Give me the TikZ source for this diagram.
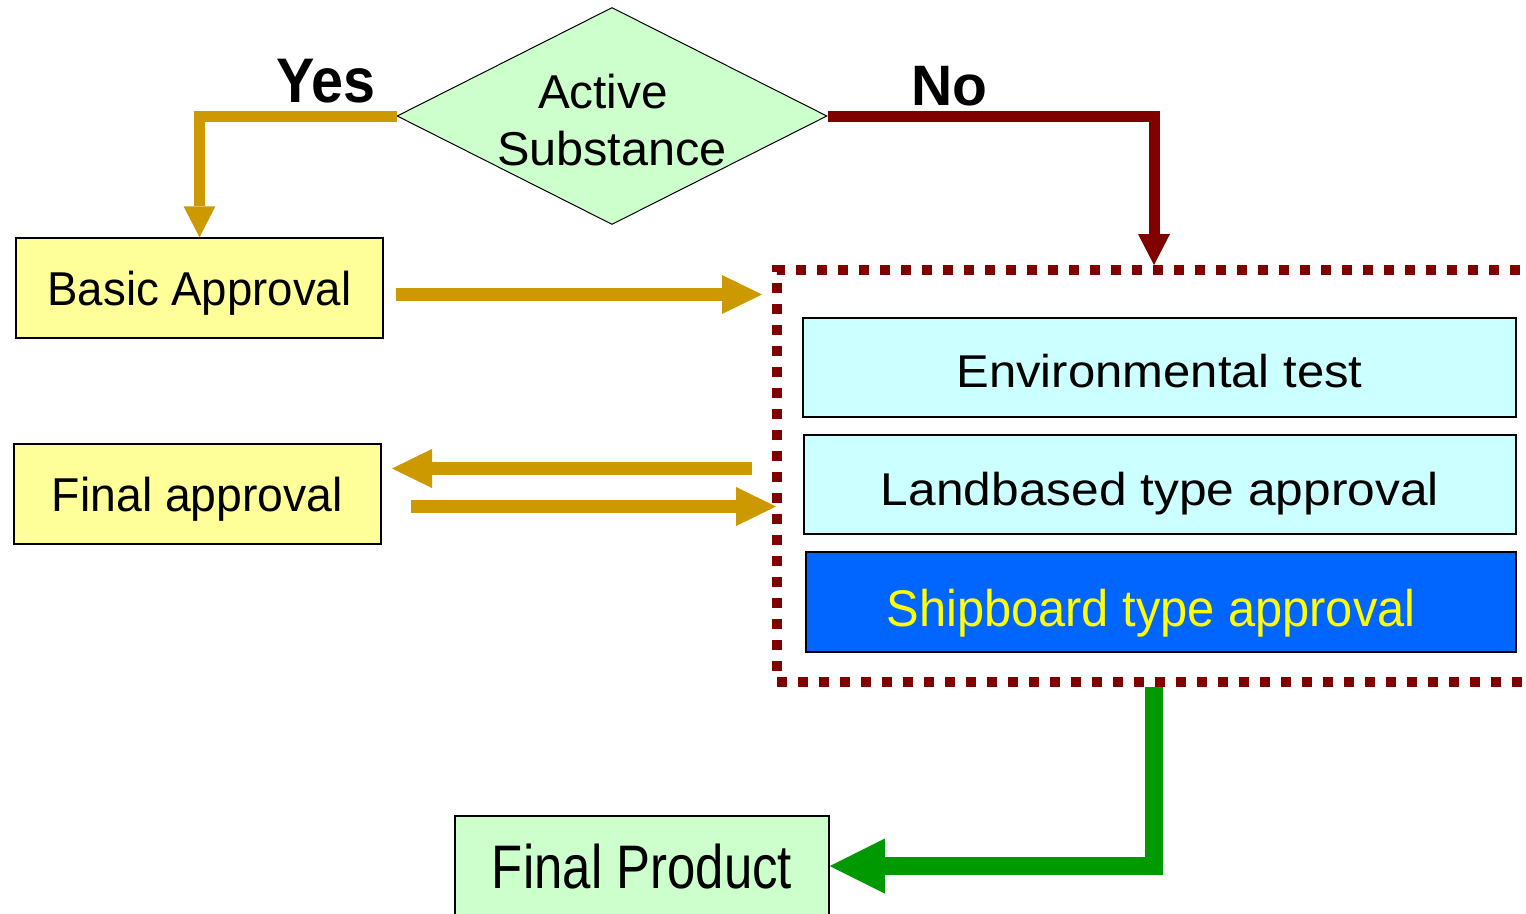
\documentclass[tikz,border=0pt]{standalone}
\usepackage{fontspec}
\usepackage{graphicx}
\setmainfont{Liberation Sans}
\usetikzlibrary{shapes.geometric,arrows.meta,calc}

\definecolor{gold}{HTML}{CC9900}
\definecolor{dred}{HTML}{800000}
\definecolor{arrowgreen}{HTML}{009900}
\definecolor{paleyellow}{HTML}{FFFF99}
\definecolor{palegreen}{HTML}{CCFFCC}
\definecolor{palecyan}{HTML}{CCFFFF}
\definecolor{brightblue}{HTML}{0066FF}
\definecolor{brightyellow}{HTML}{FFFF00}

% text at a given size, stretched or squeezed to a given width
\newcommand\fitw[3]{{\fontsize{#1}{#1}\selectfont\resizebox{#2pt}{\height}{#3}}}

\tikzset{
  stagebox/.style={draw=black, line width=1.5pt, inner sep=0pt,
    minimum height=100pt, text depth=0pt},
  yellowbox/.style={stagebox, fill=paleyellow, minimum width=367pt},
  cyanbox/.style={stagebox, fill=palecyan, minimum height=99pt},
  bluebox/.style={stagebox, fill=brightblue, text=brightyellow},
  greenbox/.style={stagebox, fill=palegreen},
  testframe/.style={draw=dred, line width=10pt, dash pattern=on 10pt off 11pt,
    inner sep=0pt},
  goldthin/.style={draw=gold, line width=11pt,
    -{Triangle[width=32pt,length=31pt,line width=0pt]}},
  goldthick/.style={draw=gold, line width=13pt,
    -{Triangle[width=39pt,length=40pt,line width=0pt]}},
  redarrow/.style={draw=dred, line width=11pt,
    -{Triangle[width=32pt,length=31pt,line width=0pt]}},
  greenarrow/.style={draw=arrowgreen, line width=18pt,
    -{Triangle[width=55pt,length=55pt,line width=0pt]}},
  answer/.style={anchor=base, inner sep=0pt, font=\bfseries},
}

\begin{document}
\begin{tikzpicture}[x=1pt, y=-1pt]
\useasboundingbox (0,0) rectangle (1526,913);
\fill[white] (0,0) rectangle (1526,913);
\clip (0,0) rectangle (1526,913);

% dotted frame around the test stages (perimeter a whole number of dash periods)
\node[testframe, minimum width=753.5pt, minimum height=412pt] (frame) at (1153.75,476) {};

% decision
\node[diamond, draw=black, line width=1pt, fill=palegreen, inner sep=0pt,
      aspect=1.98, minimum width=430pt, minimum height=217pt] (active) at (612,116) {};
\node[anchor=base, inner sep=0pt] (activeA) at (603,108) {\fitw{47.5}{130}{Active}};
\node[anchor=base, inner sep=0pt] (activeB) at (612,165) {\fitw{47.5}{230}{Substance}};

\node[answer] (yes) at (325.5,102) {\fitw{63}{99}{Yes}};
\node[answer] (no) at (949,105) {\fitw{57}{76}{No}};

% approval boxes
\node[yellowbox, text height=34pt] (basic) at (199.5,288) {\fitw{47.5}{304}{Basic Approval}};
\node[yellowbox, text height=34pt] (final) at (197.5,494) {\fitw{47.5}{291}{Final approval}};
\node[greenbox, minimum width=374pt, text height=44pt] (product) at (642,866) {\fitw{61.5}{300}{Final Product}};

% test stages
\node[cyanbox, minimum width=713pt, text height=39pt] (env) at (1159.5,367.5)
  {\fitw{46}{406}{Environmental test}};
\node[cyanbox, minimum width=712pt, text height=41pt] (land) at (1160,484.5)
  {\fitw{46}{558}{Landbased type approval}};
\node[bluebox, minimum width=710pt, text height=49pt] (ship) at (1161,602)
  {\fitw{51.5}{529}{Shipboard type approval}\hspace*{20pt}};

% connectors
\draw[goldthin] (active.west) -| (basic.north);
\draw[redarrow] (active.east) -| ([xshift=0.25pt]frame.north);
\draw[goldthick] ($(basic.east)+(12,6.5)$) -- ($(frame.west |- basic.east)+(-10,6.5)$);
\draw[goldthick] ($(frame.west |- final.east)+(-20,-25.5)$) -- ($(final.east)+(10.25,-25.5)$);
\draw[goldthick] ($(final.east)+(29.25,12.5)$) -- ($(frame.west |- final.east)+(4,12.5)$);
\draw[greenarrow] ([xshift=0.25pt]frame.south) |- (product.east);
\end{tikzpicture}
\end{document}
